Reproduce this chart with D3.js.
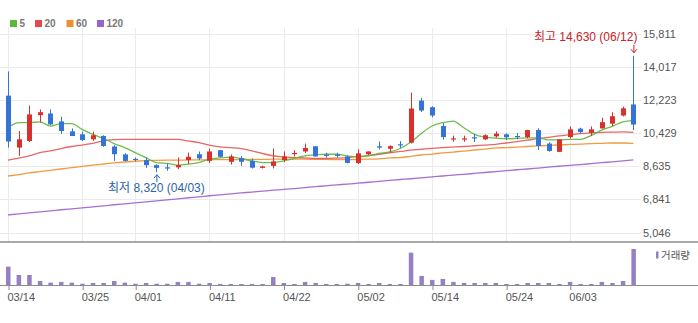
<!DOCTYPE html>
<html><head><meta charset="utf-8">
<script src="https://cdn.jsdelivr.net/npm/d3@7"></script>
<style>
html,body{margin:0;padding:0;background:#fff;}
svg{display:block;font-family:"Liberation Sans","Noto Sans CJK KR",Arial,sans-serif;}
</style></head>
<body><svg id="c" width="698" height="323"></svg>
<script>
const dates = ["03/14","03/15","03/18","03/19","03/20","03/21","03/22","03/25","03/26","03/27","03/28","03/29",
"04/01","04/02","04/03","04/04","04/05","04/08","04/09","04/11","04/12","04/15","04/16","04/17","04/18","04/19",
"04/22","04/23","04/24","04/25","04/26","04/29","04/30","05/02","05/03","05/07","05/08","05/09","05/10","05/13",
"05/14","05/16","05/17","05/20","05/21","05/22","05/23","05/24","05/27","05/28","05/29","05/30","05/31",
"06/03","06/04","06/05","06/07","06/10","06/11","06/12"];
const open  = [12470,9650,10010,11410,11500,11070,10530,10370,10100,10280,9710,9280,9040,8970,8700,8580,8580,8970,9290,8930,9510,8880,9080,8930,8550,8660,8980,9310,9440,9720,9270,9270,9170,8810,9290,9720,9590,9830,9920,12200,11840,10820,10100,10100,10210,10100,10260,10370,10280,10220,10600,9870,9420,10220,10680,10450,10690,10950,11390,11990];
const high  = [13780,10550,11930,11720,11720,11320,10690,10520,10520,10320,9780,9340,9110,9110,8750,8790,9110,9380,9440,9600,9520,9280,9200,9060,8670,9600,9440,9510,9870,9740,9370,9370,9220,9560,9440,9980,9780,10000,12630,12350,11890,10980,10300,10300,10390,10370,10530,10420,10440,10620,10700,9940,10100,10800,10730,10800,11270,11570,11870,14630];
const low   = [9650,9200,9950,11000,10870,10390,10280,10010,10010,9690,8930,8900,8900,8550,8320,8390,8480,8750,8970,8810,9110,8730,8660,8520,8520,8520,8860,9170,9360,9170,9100,9100,8800,8760,9250,9550,9380,9630,9870,11580,11290,10080,9970,9970,9950,10060,10190,10060,10100,10150,9520,9430,9420,10150,10410,10280,10680,10830,11340,10600];
const close = [9980,10100,11450,11570,10910,10550,10280,10060,10320,9740,9290,8930,9010,8700,8550,8520,8700,9150,9060,9440,9150,9170,8880,8560,8630,8900,9170,9360,9630,9170,9200,9200,8820,9340,9440,9650,9730,9790,11770,11660,11390,10220,10150,10150,10150,10320,10410,10210,10220,10600,9740,9470,10100,10640,10490,10640,11030,11350,11780,10900];
const ma5   = [10730,11000,11000,11050,10820,10950,10950,10640,10370,10150,9870,9650,9380,9110,8840,8790,8700,8750,8840,9020,9090,9130,9060,8930,8840,8840,8930,9060,9200,9250,9290,9290,9200,9150,9200,9330,9420,9600,9950,10420,10820,11000,11090,10730,10370,10220,10170,10130,10150,10180,10180,10070,10070,10100,10100,10300,10600,10800,11040,11130];
const ma20  = [8970,9080,9200,9380,9470,9600,9710,9790,9880,10010,10080,10100,10100,10100,10100,10100,10100,10010,9920,9780,9690,9650,9600,9470,9330,9200,9150,9110,9090,9060,9060,9080,9110,9170,9220,9290,9370,9440,9510,9560,9610,9650,9680,9710,9750,9790,9830,9900,9970,10050,10140,10210,10290,10350,10410,10450,10480,10490,10500,10480];
const ma60  = [8110,8190,8280,8350,8420,8490,8560,8630,8700,8760,8820,8870,8910,8940,8960,8970,8970,8980,8980,8990,9000,9000,9000,9010,9010,9020,9020,9020,9020,9010,9010,9000,9000,9010,9020,9040,9090,9110,9180,9250,9300,9360,9410,9460,9520,9570,9630,9650,9680,9710,9740,9770,9790,9820,9840,9870,9880,9900,9900,9880];
const ma120 = [6000,6060,6110,6170,6220,6280,6330,6380,6440,6490,6550,6600,6650,6710,6760,6820,6870,6930,6980,7040,7090,7140,7190,7240,7290,7340,7380,7430,7480,7530,7580,7630,7670,7720,7770,7820,7870,7920,7960,8010,8060,8110,8160,8200,8250,8300,8350,8400,8450,8490,8540,8590,8640,8690,8730,8780,8830,8880,8930,8980];
const volume = [1010,550,550,220,130,170,130,70,110,110,220,130,70,110,70,70,170,170,70,110,55,55,55,55,55,440,110,55,170,110,55,55,70,110,55,110,55,55,1780,500,280,330,170,110,110,110,110,55,55,110,110,110,55,170,55,55,170,110,220,1980];
const yTicks = [5046,6841,8635,10429,12223,14017,15811];
const xTicks = ["03/14","03/25","04/01","04/11","04/22","05/02","05/14","05/24","06/03"];
const maNames = ["5","20","60","120"];
const maColors = ["#5cb83a","#e34b4b","#f0902c","#9a62cc"];
const lowLabel = "최저 8,320 (04/03)";
const highLabel = "최고 14,630 (06/12)";
const volLabel = "거래량";

const svg = d3.select("#c");
const x = d3.scalePoint().domain(dates).range([8, 633.4]);
const y = d3.scaleLinear().domain([5046, 15811]).range([232.5, 34]);
const yv = d3.scaleLinear().domain([0, 2035]).range([285, 248]);
const RED = "#d9302c", BLUE = "#3474d6";

// horizontal grid
svg.append("g").selectAll("line").data(yTicks).join("line")
  .attr("x1", 0).attr("x2", 641).attr("y1", d => Math.round(y(d)) + 0.5).attr("y2", d => Math.round(y(d)) + 0.5)
  .attr("stroke", "#ebebeb");
// vertical grid
svg.append("g").selectAll("line").data(xTicks).join("line")
  .attr("x1", d => Math.round(x(d)) + 0.5).attr("x2", d => Math.round(x(d)) + 0.5)
  .attr("y1", 28).attr("y2", 242).attr("stroke", "#ebebeb");

// right axis labels
const yAxis = d3.axisRight(y).tickValues(yTicks).tickFormat(d3.format(",")).tickSize(0).tickPadding(0);
const ya = svg.append("g").attr("transform", "translate(643,0)").call(yAxis);
ya.select(".domain").remove();
ya.selectAll("text").attr("fill", "#555").style("font-size", "11px");

// MA lines
const idx = d3.range(dates.length);
const mas = [ma120, ma60, ma20, ma5];
const maCols = [maColors[3], maColors[2], maColors[1], maColors[0]];
mas.forEach((arr, k) => {
  const line = d3.line().x(i => x(dates[i])).y(i => y(arr[i])).curve(d3.curveMonotoneX);
  svg.append("path").datum(idx).attr("d", line).attr("fill", "none")
    .attr("stroke", maCols[k]).attr("stroke-width", 1.3).attr("stroke-opacity", k === 2 ? 0.85 : 0.9);
});

// candles
const cg = svg.append("g");
idx.forEach(i => {
  const up = close[i] >= open[i];
  const col = up ? RED : BLUE;
  const cx = Math.round(x(dates[i])) + 0.5;
  cg.append("line").attr("x1", cx).attr("x2", cx).attr("y1", y(high[i])).attr("y2", y(low[i]))
    .attr("stroke", col).attr("stroke-width", 1);
  const t = Math.min(y(open[i]), y(close[i]));
  const h = Math.max(1.2, Math.abs(y(open[i]) - y(close[i])));
  cg.append("rect").attr("x", cx - 2.5).attr("width", 5).attr("y", t).attr("height", h).attr("fill", col);
});

// annotations
const iMin = dates.indexOf("04/03"), iMax = dates.indexOf("06/12");
const lx = x(dates[iMin]), ly = y(low[iMin]);
const blueTxt = "#2c62a8";
svg.append("line").attr("x1", lx + 0.5).attr("x2", lx + 0.5).attr("y1", ly + 3).attr("y2", ly + 10).attr("stroke", blueTxt);
svg.append("path").attr("d", `M${lx - 3 + 0.5},${ly + 6}L${lx + 0.5},${ly + 2.5}L${lx + 3.5},${ly + 6}`).attr("fill", "none").attr("stroke", blueTxt);
svg.append("text").attr("x", lx).attr("y", ly + 19.5).attr("text-anchor", "middle").attr("fill", blueTxt)
  .style("font-size", "12px").text(lowLabel);
const hx = x(dates[iMax]), hy = y(high[iMax]);
const redTxt = "#c8232b";
svg.append("line").attr("x1", hx + 0.5).attr("x2", hx + 0.5).attr("y1", hy - 11).attr("y2", hy - 3).attr("stroke", redTxt);
svg.append("path").attr("d", `M${hx - 3 + 0.5},${hy - 6.5}L${hx + 0.5},${hy - 3}L${hx + 3.5},${hy - 6.5}`).attr("fill", "none").attr("stroke", redTxt);
svg.append("text").attr("x", hx + 4).attr("y", hy - 15).attr("text-anchor", "end").attr("fill", redTxt)
  .style("font-size", "12px").text(highLabel);

// separator
svg.append("line").attr("x1", 0).attr("x2", 698).attr("y1", 242).attr("y2", 242).attr("stroke", "#8c8c8c").attr("stroke-width", 1.5);

// volume bars
svg.append("g").selectAll("rect").data(idx).join("rect")
  .attr("x", i => x(dates[i]) - 2).attr("width", 4.5)
  .attr("y", i => yv(volume[i])).attr("height", i => 285 - yv(volume[i]))
  .attr("fill", "#9580c4");

// volume baseline + x axis
const xAxis = d3.axisBottom(x).tickValues(xTicks).tickSize(5).tickPadding(3);
const xa = svg.append("g").attr("transform", "translate(0.5,285)").call(xAxis);
xa.select(".domain").remove();
xa.selectAll(".tick line").attr("stroke", "#888");
xa.selectAll("text").attr("fill", "#555").style("font-size", "11px").attr("text-anchor", "start").attr("dx", "-1.5");
svg.append("line").attr("x1", 0).attr("x2", 698).attr("y1", 285.5).attr("y2", 285.5).attr("stroke", "#8c8c8c");

// volume legend
svg.append("rect").attr("x", 656).attr("y", 251.5).attr("width", 2.5).attr("height", 7).attr("fill", "#9580c4");
svg.append("text").attr("x", 661).attr("y", 259).attr("fill", "#555").style("font-size", "10.5px").text(volLabel);

// MA legend
const legX = [10, 35, 66.5, 97];
const lg = svg.append("g");
maNames.forEach((n, k) => {
  lg.append("rect").attr("x", legX[k]).attr("y", 20).attr("width", 7).attr("height", 7).attr("fill", maColors[k]);
  lg.append("text").attr("x", legX[k] + 9.5).attr("y", 27).attr("fill", "#777").style("font-size", "10px")
    .style("font-weight", "bold").text(n);
});
</script></body></html>
